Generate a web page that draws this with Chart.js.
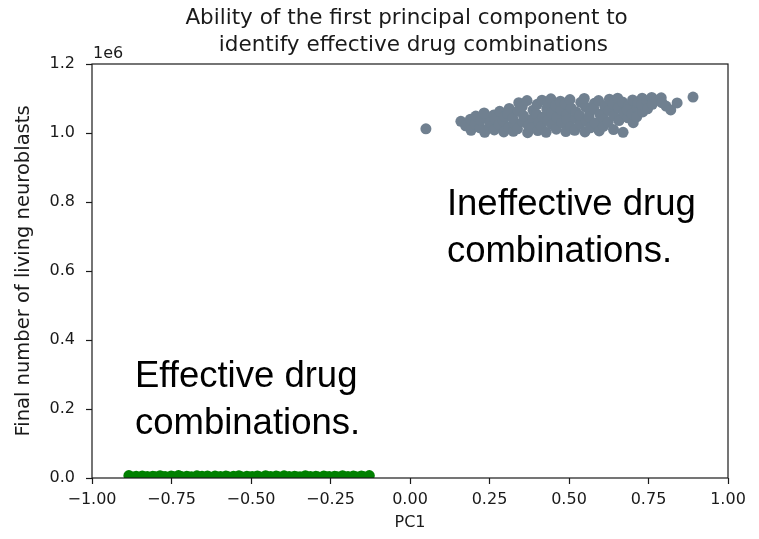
<!DOCTYPE html>
<html>
<head>
<meta charset="utf-8">
<script src="https://cdn.jsdelivr.net/npm/chart.js@4/dist/chart.umd.min.js"></script>
<style>
  html, body { margin: 0; padding: 0; background: #ffffff; }
  canvas { display: block; }
</style>
</head>
<body>
<canvas id="pcaChart" width="759" height="539"></canvas>
<script>
// Effective combinations: PC1 score and final living neuroblast count
const effectivePC1 = [
  -0.884, -0.872, -0.861, -0.853, -0.842, -0.835, -0.826, -0.818, -0.809, -0.801,
  -0.794, -0.786, -0.777, -0.770, -0.762, -0.751, -0.743, -0.736, -0.728, -0.719,
  -0.711, -0.702, -0.695, -0.687, -0.678, -0.670, -0.661, -0.654, -0.646, -0.637,
  -0.629, -0.620, -0.613, -0.604, -0.596, -0.588, -0.579, -0.571, -0.562, -0.555,
  -0.546, -0.538, -0.530, -0.521, -0.513, -0.505, -0.496, -0.488, -0.480, -0.471,
  -0.463, -0.454, -0.447, -0.438, -0.430, -0.421, -0.413, -0.405, -0.396, -0.388,
  -0.380, -0.371, -0.363, -0.355, -0.346, -0.338, -0.329, -0.321, -0.313, -0.304,
  -0.296, -0.288, -0.279, -0.271, -0.262, -0.254, -0.246, -0.237, -0.229, -0.220,
  -0.212, -0.204, -0.195, -0.187, -0.178, -0.170, -0.162, -0.153, -0.145, -0.137,
  -0.128
];
const effectiveCells = [
  7200, 3100, 5400, 1800, 6100, 2500, 4300, 900, 5200, 3600,
  1500, 6600, 2800, 4700, 1100, 5800, 3300, 2000, 6900, 4100,
  700, 5000, 2600, 3900, 1400, 6300, 2200, 4800, 1000, 5500,
  3000, 1700, 6000, 2400, 4500, 800, 5700, 3400, 1300, 4900,
  2100, 6400, 3700, 1200, 5300, 2900, 4400, 600, 5900, 3200,
  1900, 6700, 2700, 4200, 1000, 5600, 3500, 2300, 6200, 1600,
  4600, 800, 5100, 2800, 3800, 1400, 6500, 2500, 4000, 1100,
  5400, 3100, 1800, 6100, 2600, 4300, 900, 5000, 3600, 1500,
  6800, 2200, 4700, 1200, 5500, 3300, 2000, 6000, 3900, 1300,
  7000
];

// Ineffective combinations: PC1 score and final living neuroblast count
const ineffectivePC1 = [
  0.050, 0.160, 0.175, 0.190, 0.192, 0.205, 0.207, 0.220, 0.222,
  0.235, 0.237, 0.233, 0.250, 0.252, 0.265, 0.263, 0.267, 0.280, 0.282,
  0.295, 0.293, 0.297, 0.310, 0.312, 0.308, 0.325, 0.327, 0.323,
  0.340, 0.342, 0.338, 0.355, 0.357, 0.353, 0.370, 0.372, 0.368,
  0.385, 0.387, 0.383, 0.400, 0.402, 0.398, 0.404, 0.415, 0.417, 0.413,
  0.430, 0.432, 0.428, 0.434, 0.445, 0.447, 0.443, 0.460, 0.462, 0.458,
  0.475, 0.477, 0.473, 0.490, 0.492, 0.488, 0.494, 0.505, 0.507, 0.503,
  0.520, 0.522, 0.518, 0.535, 0.537, 0.533, 0.550, 0.552, 0.548, 0.554,
  0.565, 0.567, 0.563, 0.580, 0.582, 0.578, 0.595, 0.597, 0.593,
  0.610, 0.612, 0.608, 0.625, 0.627, 0.623, 0.640, 0.642, 0.638,
  0.655, 0.657, 0.653, 0.670, 0.672, 0.668, 0.685, 0.687, 0.683,
  0.700, 0.702, 0.698, 0.715, 0.717, 0.713, 0.730, 0.732, 0.728,
  0.745, 0.747, 0.760, 0.762, 0.775, 0.790, 0.792, 0.805, 0.820, 0.840,
  0.890
];
const ineffectiveCells = [
  1012000, 1034000, 1021000, 1040000, 1008000, 1026000, 1049000, 1015000, 1037000,
  1002000, 1044000, 1058000, 1020000, 1031000, 1009000, 1052000, 1040000, 1025000, 1063000,
  1003000, 1035000, 1048000, 1017000, 1071000, 1056000, 1005000, 1029000, 1043000,
  1064000, 1088000, 1012000, 1033000, 1050000, 1077000, 1001000, 1022000, 1094000,
  1041000, 1066000, 1015000, 1083000, 1007000, 1055000, 1030000, 1095000, 1046000, 1019000,
  1070000, 1036000, 1002000, 1088000, 1058000, 1024000, 1099000, 1011000, 1045000, 1079000,
  1066000, 1030000, 1092000, 1004000, 1053000, 1085000, 1038000, 1018000, 1072000, 1097000,
  1043000, 1061000, 1008000, 1026000, 1089000, 1051000, 1003000, 1076000, 1100000, 1035000,
  1062000, 1015000, 1047000, 1086000, 1029000, 1070000, 1006000, 1054000, 1094000,
  1040000, 1078000, 1019000, 1065000, 1098000, 1031000, 1010000, 1049000, 1084000,
  1073000, 1036000, 1101000, 1002000, 1058000, 1090000, 1044000, 1080000, 1067000,
  1096000, 1030000, 1055000, 1072000, 1088000, 1047000, 1101000, 1061000, 1082000,
  1093000, 1070000, 1103000, 1083000, 1095000, 1102000, 1088000, 1078000, 1067000, 1087000,
  1104000
];

// Axis ticks and their labels
const xTickValues = [-1.0, -0.75, -0.5, -0.25, 0.0, 0.25, 0.5, 0.75, 1.0];
const xTickLabels = ['\u22121.00', '\u22120.75', '\u22120.50', '\u22120.25', '0.00', '0.25', '0.50', '0.75', '1.00'];
const yTickValues = [0, 200000, 400000, 600000, 800000, 1000000, 1200000];
const yTickLabels = ['0.0', '0.2', '0.4', '0.6', '0.8', '1.0', '1.2'];

// Text labels placed in data space (left edge, baseline of last line)
const groupLabels = [
  { lines: ['Effective drug', 'combinations.'], pc1: -0.865, cells: 128000 },
  { lines: ['Ineffective drug', 'combinations.'], pc1: 0.116, cells: 626000 }
];

const titleLines = ['Ability of the first principal component to ', ' identify effective drug combinations'];

const INK = '#1a1a1a';
const TICK_FONT = { family: 'DejaVu Sans', size: 16 };

function toPoints(xs, ys) {
  return xs.map((x, i) => ({ x: x, y: ys[i] }));
}

const decorations = {
  id: 'decorations',
  afterDatasetsDraw(chart) {
    const { ctx, chartArea: a, scales } = chart;
    ctx.save();

    // axes frame
    ctx.strokeStyle = INK;
    ctx.lineWidth = 1.2;
    ctx.strokeRect(a.left, a.top, a.right - a.left, a.bottom - a.top);

    // title
    ctx.fillStyle = INK;
    ctx.font = '21.5px "DejaVu Sans"';
    ctx.textAlign = 'center';
    ctx.textBaseline = 'middle';
    const cx = (a.left + a.right) / 2;
    ctx.fillText(titleLines[0], cx, 18);
    ctx.fillText(titleLines[1], cx, 45);

    // y-axis multiplier
    ctx.font = '16px "DejaVu Sans"';
    ctx.textAlign = 'left';
    ctx.textBaseline = 'alphabetic';
    ctx.fillText('1e6', a.left + 1, a.top - 6);

    // group labels
    ctx.fillStyle = '#000000';
    ctx.font = '36.5px "Liberation Sans", Arial, sans-serif';
    const lineGap = 47;
    groupLabels.forEach(g => {
      const px = scales.x.getPixelForValue(g.pc1);
      const py = scales.y.getPixelForValue(g.cells);
      const n = g.lines.length;
      g.lines.forEach((t, i) => {
        ctx.fillText(t, px, py - (n - 1 - i) * lineGap);
      });
    });

    ctx.restore();
  }
};

new Chart(document.getElementById('pcaChart'), {
  type: 'scatter',
  data: {
    datasets: [
      {
        label: 'Effective',
        data: toPoints(effectivePC1, effectiveCells),
        backgroundColor: '#008000',
        borderWidth: 0,
        pointRadius: 5.5,
        pointHoverRadius: 5.5,
        clip: 0
      },
      {
        label: 'Ineffective',
        data: toPoints(ineffectivePC1, ineffectiveCells),
        backgroundColor: '#708090',
        borderWidth: 0,
        pointRadius: 5.5,
        pointHoverRadius: 5.5,
        clip: 0
      }
    ]
  },
  options: {
    responsive: false,
    animation: false,
    devicePixelRatio: 1,
    layout: { padding: { top: 64, right: 31, bottom: 0, left: 0 } },
    plugins: {
      legend: { display: false },
      title: { display: false },
      tooltip: { enabled: false }
    },
    scales: {
      x: {
        type: 'linear',
        min: -1,
        max: 1,
        afterBuildTicks: s => { s.ticks = xTickValues.map(v => ({ value: v })); },
        afterFit: s => { s.height = 61; },
        ticks: {
          callback: (v, i) => xTickLabels[i],
          font: TICK_FONT,
          color: INK,
          padding: 6,
          maxRotation: 0,
          autoSkip: false
        },
        grid: { drawOnChartArea: false, tickLength: 6, tickColor: INK, tickWidth: 1.2 },
        border: { display: false },
        title: {
          display: true,
          text: 'PC1',
          font: TICK_FONT,
          color: INK,
          padding: { top: 0, bottom: 7 }
        }
      },
      y: {
        type: 'linear',
        min: 0,
        max: 1200000,
        afterBuildTicks: s => { s.ticks = yTickValues.map(v => ({ value: v })); },
        afterFit: s => { s.width = 92; },
        ticks: {
          callback: (v, i) => yTickLabels[i],
          font: TICK_FONT,
          color: INK,
          padding: 11,
          autoSkip: false
        },
        grid: { drawOnChartArea: false, tickLength: 6, tickColor: INK, tickWidth: 1.2 },
        border: { display: false },
        title: {
          display: true,
          text: 'Final number of living neuroblasts',
          font: { family: 'DejaVu Sans', size: 19.5 },
          color: INK,
          padding: { top: 12, bottom: 0 }
        }
      }
    }
  },
  plugins: [decorations]
});
</script>
</body>
</html>
